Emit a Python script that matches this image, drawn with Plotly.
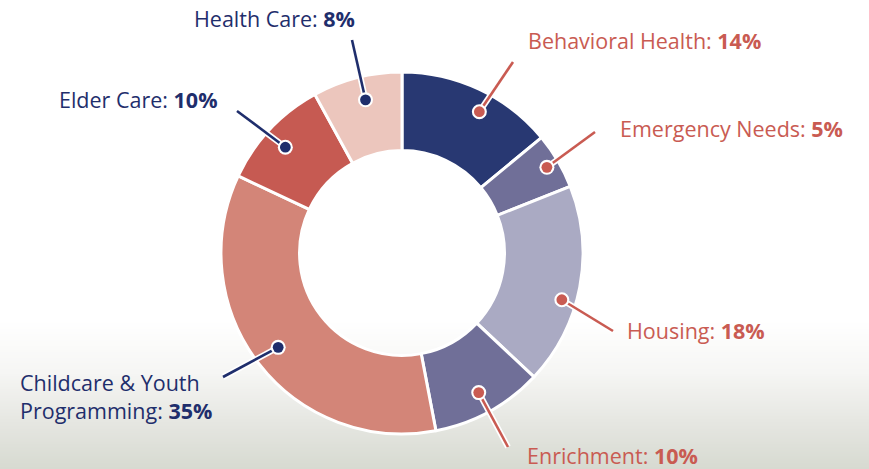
import math
import base64
import struct
import zlib
import plotly.graph_objects as go

# ---------------- data ----------------
categories = ["Behavioral Health", "Emergency Needs", "Housing", "Enrichment",
              "Childcare & Youth<br>Programming", "Elder Care", "Health Care"]
shares = [14, 5, 18, 10, 35, 10, 8]
slice_colors = ["#283872", "#706f98", "#aaaac3", "#706f98", "#d38578", "#c65a52", "#ecc6bd"]

# ---------------- layout constants ----------------
W, H = 869, 469
CX, CY, R = 402, 253, 181
HOLE = 0.566
NAVY = "#1f2e6c"
RED = "#c95b52"
FONT = "Open Sans"
FSIZE = 21.5

# label colour, dot radial factor / angle nudge (deg), leader-line end, text anchor, alignment
label_style = [
    dict(color=RED,  rf=0.89, dang=3.5, end=(513, 62),  pos=(526, 40),  anchor="left"),
    dict(color=RED,  rf=0.93, dang=0.0, end=(595, 132), pos=(618, 128), anchor="left"),
    dict(color=RED,  rf=0.92, dang=5.5, end=(613, 331), pos=(625, 330), anchor="left"),
    dict(color=RED,  rf=0.88, dang=0.0, end=(508, 447), pos=(525, 455), anchor="left"),
    dict(color=NAVY, rf=0.86, dang=0.5, end=(223, 377), pos=(18, 396),  anchor="left"),
    dict(color=NAVY, rf=0.87, dang=-1.0, end=(237, 111), pos=(220, 99), anchor="right"),
    dict(color=NAVY, rf=0.87, dang=1.0, end=(352, 40),  pos=(357, 18),  anchor="right"),
]


def gradient_png(stops, n=160):
    """Tiny 1 x n vertical gradient PNG as a data URI (background decoration)."""
    def lerp(a, b, t):
        return int(round(a + (b - a) * t))
    rows = b""
    for i in range(n):
        t = i / (n - 1)
        for k in range(len(stops) - 1):
            t0, c0 = stops[k]
            t1, c1 = stops[k + 1]
            if t0 <= t <= t1:
                u = (t - t0) / (t1 - t0) if t1 > t0 else 0
                c = [lerp(c0[j], c1[j], u) for j in range(3)]
                break
        rows += b"\x00" + bytes(c)

    def chunk(tag, data):
        return (struct.pack(">I", len(data)) + tag + data +
                struct.pack(">I", zlib.crc32(tag + data) & 0xffffffff))
    png = b"\x89PNG\r\n\x1a\n"
    png += chunk(b"IHDR", struct.pack(">IIBBBBB", 1, n, 8, 2, 0, 0, 0))
    png += chunk(b"IDAT", zlib.compress(rows))
    png += chunk(b"IEND", b"")
    return "data:image/png;base64," + base64.b64encode(png).decode()


bg_src = gradient_png([(0.0, (255, 255, 255)), (0.35, (246, 246, 244)),
                       (0.7, (229, 230, 225)), (1.0, (215, 218, 209))])

fig = go.Figure()

fig.add_trace(go.Pie(
    labels=categories, values=shares, sort=False, direction="clockwise", rotation=0,
    hole=HOLE, textinfo="none", hoverinfo="label+percent", showlegend=False,
    marker=dict(colors=slice_colors, line=dict(color="white", width=3)),
    domain=dict(x=[(CX - R) / W, (CX + R) / W], y=[1 - (CY + R) / H, 1 - (CY - R) / H]),
))

shapes = []
annotations = []
total = sum(shares)
cum = 0
for name, v, st in zip(categories, shares, label_style):
    mid = (cum + v / 2) / total * 2 * math.pi + math.radians(st["dang"])
    cum += v
    r_dot = st["rf"] * R
    dx = CX + r_dot * math.sin(mid)
    dy = CY - r_dot * math.cos(mid)
    ex, ey = st["end"]
    shapes.append(dict(type="line", xref="x", yref="y", x0=dx, y0=dy, x1=ex, y1=ey,
                       line=dict(color="white", width=6), layer="above"))
    shapes.append(dict(type="line", xref="x", yref="y", x0=dx, y0=dy, x1=ex, y1=ey,
                       line=dict(color=st["color"], width=2.6), layer="above"))
    rr = 7.5
    shapes.append(dict(type="circle", xref="x", yref="y", x0=dx - rr, x1=dx + rr,
                       y0=dy - rr, y1=dy + rr, fillcolor="white",
                       line=dict(width=0), layer="above"))
    rr = 5.4
    shapes.append(dict(type="circle", xref="x", yref="y", x0=dx - rr, x1=dx + rr,
                       y0=dy - rr, y1=dy + rr, fillcolor=st["color"],
                       line=dict(width=0), layer="above"))
    px, py = st["pos"]
    annotations.append(dict(
        x=px, y=py, xref="x", yref="y", xanchor=st["anchor"], yanchor="middle",
        align="left", showarrow=False, text=f"{name}: <b>{v}%</b>",
        font=dict(family=FONT, size=FSIZE, color=st["color"]),
    ))

fig.update_layout(
    width=W, height=H, margin=dict(l=0, r=0, t=0, b=0),
    paper_bgcolor="white", plot_bgcolor="rgba(0,0,0,0)",
    xaxis=dict(range=[0, W], visible=False, fixedrange=True),
    yaxis=dict(range=[H, 0], visible=False, fixedrange=True),
    shapes=shapes, annotations=annotations, showlegend=False,
    images=[dict(source=bg_src, xref="paper", yref="paper", x=0, y=1 - 320 / H,
                 sizex=1, sizey=(H - 320) / H, xanchor="left", yanchor="top",
                 sizing="stretch", layer="below")],
)

fig.write_html("out.html", config={"displayModeBar": False},
               post_script="document.body.style.margin='0px';document.body.style.overflow='hidden';")
